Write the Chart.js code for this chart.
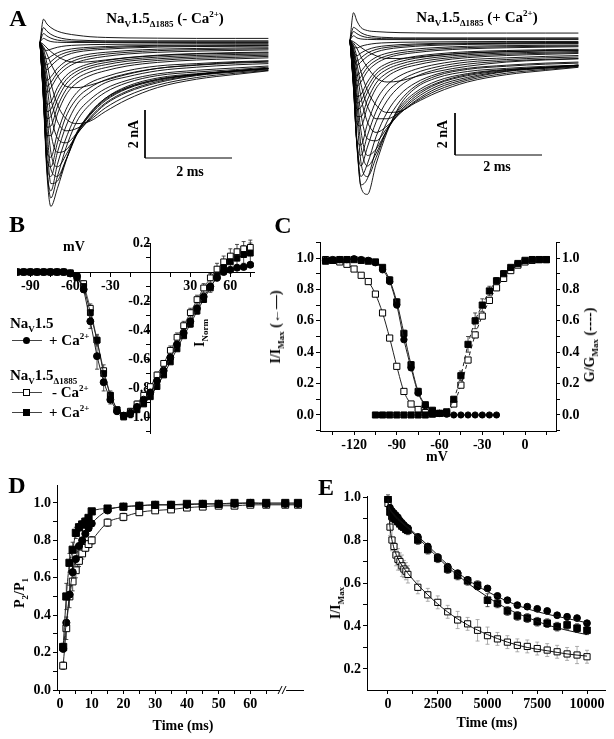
<!DOCTYPE html>
<html>
<head>
<meta charset="utf-8">
<script src="https://cdn.jsdelivr.net/npm/chart.js@4.4.1/dist/chart.umd.min.js"></script>
<style>
html, body { margin: 0; padding: 0; background: #fff; }
#fig { position: relative; width: 614px; height: 739px; overflow: hidden; font-family: 'Liberation Serif', 'Times New Roman', serif; font-weight: bold; color: #000; }
#fig canvas { position: absolute; }
.t { position: absolute; z-index: 2; white-space: nowrap; font-size: 14px; line-height: 1; transform: translate(-50%, -50%); }
.l { transform: translate(0, -50%); }
.rot { transform: translate(-50%, -50%) rotate(-90deg); }
.big { font-size: 24px; }
sub, sup { font-size: 9px; line-height: 0; }
.key { position: absolute; z-index: 2; width: 30px; height: 8px; }
.key::before { content: ''; position: absolute; left: 0; right: 0; top: 4px; border-top: 1px solid #444; }
.key i { position: absolute; left: 11px; top: 1px; width: 7px; height: 7px; background: #000; }
.key i.c { border-radius: 50%; }
.key i.o { background: #fff; border: 1px solid #000; width: 5px; height: 5px; }
</style>
</head>
<body>
<div id="fig">
  <div class="t big" style="left:18px;top:18px">A</div>
  <div class="t" style="left:165px;top:18px;font-size:15px">Na<sub>V</sub>1.5<sub>Δ1885</sub> (- Ca<sup>2+</sup>)</div>
  <div class="t" style="left:477px;top:17px;font-size:15px">Na<sub>V</sub>1.5<sub>Δ1885</sub> (+ Ca<sup>2+</sup>)</div>
  <div class="t rot" style="left:134px;top:134px">2 nA</div>
  <div class="t" style="left:190px;top:172px">2 ms</div>
  <div class="t rot" style="left:443px;top:134px">2 nA</div>
  <div class="t" style="left:497px;top:167px">2 ms</div>

  <div class="t big" style="left:17px;top:224px">B</div>
  <div class="t" style="left:74px;top:247px">mV</div>
  <div class="t rot" style="left:200px;top:333px">I<sub>Norm</sub></div>
  <div class="t l" style="left:10px;top:323px;font-size:15px">Na<sub>V</sub>1.5</div>
  <div class="key" style="left:12px;top:336px"><i class="c"></i></div>
  <div class="t l" style="left:49px;top:340px;font-size:15px">+ Ca<sup>2+</sup></div>
  <div class="t l" style="left:10px;top:375px;font-size:15px">Na<sub>V</sub>1.5<sub>Δ1885</sub></div>
  <div class="key" style="left:12px;top:388px"><i class="o"></i></div>
  <div class="t l" style="left:52px;top:392px;font-size:15px">- Ca<sup>2+</sup></div>
  <div class="key" style="left:12px;top:408px"><i></i></div>
  <div class="t l" style="left:49px;top:412px;font-size:15px">+ Ca<sup>2+</sup></div>

  <div class="t big" style="left:283px;top:225px">C</div>
  <div class="t rot" style="left:276px;top:327px">I/I<sub>Max</sub> (←—)</div>
  <div class="t rot" style="left:590px;top:345px">G/G<sub>Max</sub> (----)</div>
  <div class="t" style="left:437px;top:457px">mV</div>

  <div class="t big" style="left:17px;top:485px">D</div>
  <div class="t rot" style="left:20px;top:593px">P<sub>2</sub>/P<sub>1</sub></div>
  <div class="t" style="left:183px;top:726px">Time (ms)</div>

  <div class="t big" style="left:326px;top:487px">E</div>
  <div class="t rot" style="left:336px;top:603px">I/I<sub>Max</sub></div>
  <div class="t" style="left:487px;top:723px">Time (ms)</div>
</div>
<script>
// ---------- data ----------
// A: current families (nA) sampled on a common time grid (ms)
const traceTimes = [0, 0.08, 0.16, 0.25, 0.4, 0.6, 0.85, 1.15, 1.5, 2.0, 2.7, 3.6, 4.5, 5.25];
const tracesNoCa = [
  [0, -2.5, -5.5, -6.85, -6.1, -4.95, -3.75, -3.0, -2.35, -1.85, -1.5, -1.32, -1.2, -1.1],
  [0, -2.2, -5.2, -6.5, -5.6, -4.4, -3.3, -2.6, -2.1, -1.7, -1.4, -1.25, -1.15, -1.05],
  [0, -2.3, -5.3, -6.2, -5.1, -4.0, -3.0, -2.4, -1.95, -1.6, -1.33, -1.18, -1.08, -1.0],
  [0, -1.6, -4.2, -5.9, -5.8, -4.9, -3.8, -2.95, -2.35, -1.9, -1.55, -1.35, -1.2, -1.1],
  [0, -2.4, -5.1, -5.6, -4.6, -3.5, -2.6, -2.1, -1.7, -1.45, -1.2, -1.05, -0.95, -0.9],
  [0, -1.3, -3.6, -5.3, -5.6, -4.9, -3.85, -3.0, -2.4, -1.92, -1.57, -1.35, -1.2, -1.1],
  [0, -2.35, -4.9, -5.2, -4.2, -3.1, -2.35, -1.9, -1.58, -1.32, -1.1, -0.97, -0.88, -0.84],
  [0, -1.0, -3.0, -4.6, -5.2, -4.7, -3.8, -3.05, -2.45, -1.95, -1.6, -1.35, -1.2, -1.1],
  [0, -2.3, -4.6, -4.8, -3.8, -2.8, -2.1, -1.7, -1.45, -1.2, -1.0, -0.9, -0.82, -0.78],
  [0, -0.8, -2.4, -3.8, -4.6, -4.5, -3.85, -3.15, -2.55, -2.05, -1.65, -1.38, -1.22, -1.12],
  [0, -0.6, -1.8, -3.0, -4.0, -4.2, -3.8, -3.2, -2.6, -2.1, -1.7, -1.4, -1.25, -1.15],
  [0, -2.1, -3.9, -3.9, -3.0, -2.2, -1.7, -1.4, -1.2, -1.0, -0.85, -0.75, -0.7, -0.66],
  [0, -0.45, -1.35, -2.35, -3.3, -3.7, -3.6, -3.25, -2.75, -2.25, -1.8, -1.48, -1.3, -1.18],
  [0, -2.0, -3.55, -3.5, -2.7, -1.98, -1.52, -1.25, -1.07, -0.9, -0.77, -0.68, -0.64, -0.6],
  [0, -0.3, -0.9, -1.7, -2.6, -3.2, -3.4, -3.3, -2.9, -2.4, -1.9, -1.55, -1.35, -1.2],
  [0, -1.9, -3.2, -3.1, -2.4, -1.75, -1.35, -1.1, -0.95, -0.8, -0.7, -0.62, -0.58, -0.55],
  [0, -1.75, -2.9, -2.8, -2.15, -1.57, -1.22, -1.0, -0.86, -0.73, -0.63, -0.56, -0.52, -0.5],
  [0, -1.6, -2.6, -2.5, -1.9, -1.4, -1.1, -0.9, -0.78, -0.66, -0.57, -0.5, -0.47, -0.45],
  [0, -0.2, -0.5, -0.9, -1.4, -1.85, -1.9, -1.8, -1.6, -1.35, -1.1, -0.95, -0.85, -0.8],
  [0, -1.4, -2.1, -1.9, -1.45, -1.1, -0.85, -0.7, -0.6, -0.5, -0.43, -0.38, -0.35, -0.33],
  [0, -1.25, -1.85, -1.68, -1.28, -0.95, -0.73, -0.6, -0.51, -0.43, -0.36, -0.32, -0.3, -0.28],
  [0, -1.1, -1.6, -1.45, -1.1, -0.8, -0.62, -0.5, -0.43, -0.36, -0.3, -0.27, -0.25, -0.24],
  [0, -0.1, -0.25, -0.4, -0.6, -0.78, -0.85, -0.82, -0.75, -0.65, -0.55, -0.48, -0.44, -0.42],
  [0, -0.85, -1.15, -1.0, -0.75, -0.55, -0.42, -0.35, -0.3, -0.25, -0.21, -0.19, -0.18, -0.17],
  [0, -0.7, -0.95, -0.82, -0.6, -0.44, -0.34, -0.28, -0.24, -0.2, -0.17, -0.16, -0.15, -0.14],
  [0, -0.55, -0.7, -0.6, -0.45, -0.33, -0.26, -0.22, -0.19, -0.16, -0.14, -0.13, -0.12, -0.12],
  [0, -0.3, -0.35, -0.3, -0.22, -0.16, -0.13, -0.11, -0.1, -0.09, -0.08, -0.07, -0.07, -0.07],
  [0, 0.15, 0.08, 0.02, -0.01, -0.02, -0.02, -0.02, -0.02, -0.02, -0.02, -0.02, -0.02, -0.02],
  [0, 0.35, 0.25, 0.16, 0.08, 0.04, 0.02, 0.01, 0.01, 0.01, 0.01, 0.01, 0.01, 0.01],
  [0, 0.6, 0.45, 0.32, 0.2, 0.12, 0.08, 0.06, 0.05, 0.05, 0.05, 0.05, 0.05, 0.05],
  [0, 0.95, 0.75, 0.6, 0.45, 0.35, 0.28, 0.22, 0.19, 0.17, 0.16, 0.15, 0.15, 0.15]
];
const tracesCa = [
  [0, -1.8, -4.8, -7.0, -7.35, -5.9, -4.4, -3.1, -2.3, -1.8, -1.5, -1.35, -1.25, -1.2],
  [0, -2.0, -5.0, -6.9, -6.6, -5.2, -3.9, -2.9, -2.2, -1.7, -1.4, -1.25, -1.15, -1.1],
  [0, -2.1, -5.1, -6.5, -5.9, -4.6, -3.45, -2.6, -2.05, -1.62, -1.35, -1.2, -1.1, -1.05],
  [0, -1.2, -3.6, -5.8, -6.5, -5.6, -4.3, -3.2, -2.5, -1.95, -1.6, -1.4, -1.3, -1.2],
  [0, -2.2, -5.0, -6.0, -5.1, -3.9, -2.9, -2.2, -1.75, -1.4, -1.15, -1.0, -0.92, -0.88],
  [0, -1.0, -3.0, -5.0, -6.0, -5.4, -4.3, -3.3, -2.6, -2.05, -1.65, -1.42, -1.3, -1.2],
  [0, -2.25, -4.9, -5.5, -4.55, -3.4, -2.5, -1.95, -1.58, -1.28, -1.05, -0.93, -0.85, -0.81],
  [0, -0.8, -2.5, -4.3, -5.5, -5.2, -4.3, -3.4, -2.7, -2.1, -1.7, -1.45, -1.3, -1.2],
  [0, -2.3, -4.8, -5.0, -4.0, -2.9, -2.15, -1.7, -1.4, -1.15, -0.95, -0.85, -0.78, -0.74],
  [0, -0.65, -2.0, -3.5, -4.7, -4.8, -4.2, -3.45, -2.8, -2.2, -1.78, -1.48, -1.33, -1.22],
  [0, -0.5, -1.5, -2.7, -3.9, -4.4, -4.1, -3.5, -2.9, -2.3, -1.85, -1.5, -1.35, -1.25],
  [0, -2.1, -4.0, -4.1, -3.2, -2.3, -1.75, -1.4, -1.2, -1.0, -0.84, -0.74, -0.68, -0.64],
  [0, -0.38, -1.15, -2.1, -3.15, -3.75, -3.75, -3.45, -2.95, -2.4, -1.92, -1.58, -1.4, -1.27],
  [0, -2.0, -3.65, -3.65, -2.85, -2.05, -1.57, -1.28, -1.08, -0.91, -0.77, -0.68, -0.63, -0.6],
  [0, -0.25, -0.8, -1.5, -2.4, -3.1, -3.45, -3.4, -3.0, -2.5, -2.0, -1.65, -1.45, -1.3],
  [0, -1.9, -3.3, -3.2, -2.5, -1.8, -1.4, -1.15, -0.97, -0.82, -0.7, -0.62, -0.58, -0.55],
  [0, -1.75, -3.0, -2.9, -2.25, -1.62, -1.25, -1.03, -0.87, -0.74, -0.63, -0.56, -0.52, -0.5],
  [0, -1.6, -2.7, -2.6, -2.0, -1.45, -1.12, -0.92, -0.78, -0.66, -0.56, -0.5, -0.46, -0.44],
  [0, -0.15, -0.4, -0.8, -1.3, -1.8, -2.0, -1.95, -1.75, -1.5, -1.25, -1.05, -0.95, -0.9],
  [0, -1.4, -2.2, -2.0, -1.5, -1.12, -0.86, -0.7, -0.6, -0.5, -0.42, -0.37, -0.34, -0.32],
  [0, -1.25, -1.95, -1.75, -1.3, -0.97, -0.75, -0.61, -0.52, -0.43, -0.36, -0.32, -0.3, -0.28],
  [0, -1.1, -1.7, -1.5, -1.12, -0.82, -0.63, -0.51, -0.43, -0.36, -0.3, -0.27, -0.25, -0.24],
  [0, -0.08, -0.2, -0.35, -0.55, -0.75, -0.88, -0.88, -0.82, -0.72, -0.62, -0.55, -0.5, -0.48],
  [0, -0.85, -1.2, -1.05, -0.78, -0.57, -0.44, -0.36, -0.3, -0.25, -0.21, -0.19, -0.18, -0.17],
  [0, -0.7, -1.0, -0.85, -0.62, -0.45, -0.35, -0.29, -0.24, -0.2, -0.17, -0.16, -0.15, -0.14],
  [0, -0.55, -0.75, -0.62, -0.46, -0.34, -0.27, -0.22, -0.19, -0.16, -0.14, -0.13, -0.12, -0.12],
  [0, -0.3, -0.38, -0.3, -0.22, -0.16, -0.13, -0.11, -0.1, -0.09, -0.08, -0.07, -0.07, -0.07],
  [0, 0.2, 0.1, 0.05, 0.03, 0.02, 0.02, 0.02, 0.02, 0.02, 0.02, 0.02, 0.02, 0.02],
  [0, 0.4, 0.3, 0.2, 0.12, 0.08, 0.06, 0.06, 0.06, 0.06, 0.06, 0.06, 0.06, 0.06],
  [0, 0.6, 0.5, 0.35, 0.22, 0.15, 0.12, 0.1, 0.1, 0.1, 0.1, 0.1, 0.1, 0.1],
  [0, 1.3, 0.9, 0.6, 0.45, 0.4, 0.37, 0.35, 0.34, 0.33, 0.33, 0.33, 0.33, 0.33]
];
const barTime = 2;     // ms
const barCurrent = 2;  // nA

// B: normalised I-V
const ivVolts = [-100, -95, -90, -85, -80, -75, -70, -65, -60, -55, -50, -45, -40, -35, -30, -25, -20, -15, -10, -5, 0, 5, 10, 15, 20, 25, 30, 35, 40, 45, 50, 55, 60, 65, 70, 75];
const ivNav15Ca = [0, 0, 0, 0, 0, 0, 0, 0, -0.01, -0.03, -0.12, -0.34, -0.58, -0.76, -0.88, -0.96, -0.99, -0.97, -0.93, -0.88, -0.83, -0.75, -0.68, -0.59, -0.50, -0.42, -0.34, -0.25, -0.17, -0.10, -0.04, 0.0, 0.015, 0.03, 0.035, 0.05];
const ivDeltaNoCa = [0, 0, 0, 0, 0, 0, 0, 0, -0.005, -0.03, -0.08, -0.25, -0.47, -0.68, -0.85, -0.95, -0.99, -0.96, -0.91, -0.85, -0.79, -0.71, -0.63, -0.54, -0.45, -0.37, -0.28, -0.19, -0.11, -0.04, 0.02, 0.07, 0.11, 0.14, 0.16, 0.17];
const ivDeltaCa = [0, 0, 0, 0, 0, 0, 0, 0, -0.01, -0.04, -0.10, -0.28, -0.47, -0.70, -0.85, -0.95, -1.0, -0.98, -0.95, -0.91, -0.86, -0.79, -0.71, -0.62, -0.53, -0.44, -0.36, -0.27, -0.19, -0.11, -0.03, 0.03, 0.07, 0.095, 0.12, 0.13];
const ivErrNav15Ca = [0, 0, 0, 0, 0, 0, 0, 0, 0, 0, 0.02, 0.05, 0.09, 0.06, 0.03, 0.02, 0.01, 0.01, 0.01, 0.01, 0.01, 0.01, 0.01, 0.01, 0.01, 0.01, 0.01, 0.01, 0.01, 0.01, 0.01, 0.01, 0.01, 0.01, 0.01, 0.01];
const ivErrDeltaNoCa = [0, 0, 0, 0, 0, 0, 0, 0, 0, 0.01, 0.02, 0.03, 0.04, 0.04, 0.03, 0.02, 0.02, 0.02, 0.02, 0.02, 0.02, 0.02, 0.02, 0.03, 0.03, 0.03, 0.03, 0.03, 0.03, 0.03, 0.04, 0.04, 0.05, 0.05, 0.05, 0.05];
const ivErrDeltaCa = [0, 0, 0, 0, 0, 0, 0, 0, 0, 0, 0.01, 0.02, 0.03, 0.02, 0.02, 0.01, 0.01, 0.01, 0.01, 0.01, 0.01, 0.01, 0.01, 0.01, 0.01, 0.01, 0.02, 0.02, 0.02, 0.03, 0.03, 0.04, 0.05, 0.06, 0.06, 0.07];

// C: steady-state inactivation (solid) and activation (dashed)
const inactVolts = [-140, -135, -130, -125, -120, -115, -110, -105, -100, -95, -90, -85, -80, -75, -70, -65, -60];
const inactNav15Ca = [0.985, 0.99, 0.99, 0.99, 0.995, 0.99, 0.985, 0.97, 0.925, 0.85, 0.70, 0.48, 0.30, 0.14, 0.06, 0.025, 0.01];
const inactDeltaCa = [0.98, 0.985, 0.99, 0.99, 0.99, 0.985, 0.98, 0.975, 0.94, 0.86, 0.72, 0.52, 0.32, 0.15, 0.065, 0.03, 0.01];
const inactDeltaNoCa = [0.99, 0.985, 0.975, 0.96, 0.93, 0.89, 0.85, 0.77, 0.65, 0.49, 0.31, 0.15, 0.07, 0.035, 0.015, 0.01, 0.01];
const inactErrDeltaCa = [0, 0, 0, 0, 0, 0, 0, 0.01, 0.01, 0.02, 0.02, 0.02, 0.02, 0.02, 0.01, 0.01, 0];
const restVolts = [-105, -100, -95, -90, -85, -80, -75, -70, -65, -60, -55, -50, -45, -40, -35, -30, -25, -20];
const restLevel = [0, 0, 0, 0, 0, 0, 0, 0, 0.005, 0.01, 0.005, 0, 0, 0, 0, 0, 0, 0];
const actVolts = [-55, -50, -45, -40, -35, -30, -25, -20, -15, -10, -5, 0, 5, 10, 15];
const actDeltaCa = [0.02, 0.10, 0.25, 0.45, 0.60, 0.70, 0.79, 0.855, 0.90, 0.94, 0.965, 0.985, 0.99, 0.99, 0.99];
const actDeltaNoCa = [0.01, 0.07, 0.19, 0.35, 0.51, 0.63, 0.73, 0.81, 0.87, 0.92, 0.955, 0.975, 0.985, 0.99, 0.99];
const actErrDeltaCa = [0, 0.01, 0.03, 0.05, 0.05, 0.04, 0.03, 0.02, 0.02, 0.01, 0.01, 0.01, 0, 0, 0];

// D: recovery from inactivation (last two points sit after the axis break)
const recTimes = [1, 2, 3, 4, 5, 6, 7, 8, 9, 10, 15, 20, 25, 30, 35, 40, 45, 50, 55, 60, 65, 71, 75];
const recNav15Ca = [0.22, 0.36, 0.51, 0.63, 0.70, 0.77, 0.80, 0.835, 0.865, 0.89, 0.96, 0.98, 0.985, 0.99, 0.99, 0.99, 0.995, 0.995, 0.995, 1.0, 0.995, 0.995, 0.995];
const recDeltaCa = [0.23, 0.50, 0.68, 0.75, 0.84, 0.87, 0.885, 0.90, 0.92, 0.955, 0.97, 0.98, 0.985, 0.99, 0.99, 0.995, 0.995, 0.995, 1.0, 1.0, 1.0, 1.0, 1.0];
const recDeltaNoCa = [0.13, 0.33, 0.50, 0.58, 0.64, 0.69, 0.73, 0.76, 0.78, 0.80, 0.895, 0.925, 0.95, 0.96, 0.965, 0.975, 0.98, 0.985, 0.985, 0.99, 0.99, 0.99, 0.99];
const recErrDeltaNoCa = [0.02, 0.06, 0.06, 0.05, 0.04, 0.03, 0.03, 0.02, 0.02, 0.02, 0.02, 0.02, 0.015, 0.01, 0.01, 0.01, 0.01, 0.01, 0.01, 0.01, 0.01, 0.01, 0.01];
const recErrDeltaCa = [0.02, 0.07, 0.05, 0.04, 0.03, 0.02, 0.02, 0.02, 0.01, 0.01, 0.01, 0.01, 0.01, 0.01, 0.01, 0.01, 0.01, 0.01, 0.01, 0.01, 0.01, 0.01, 0.01];
const recBreakAt = 70.3;

// E: slow inactivation
const decayTimes = [0, 100, 200, 300, 400, 500, 600, 700, 800, 900, 1000, 1500, 2000, 2500, 3000, 3500, 4000, 4500, 5000, 5500, 6000, 6500, 7000, 7500, 8000, 8500, 9000, 9500, 10000];
const decayNav15Ca = [0.99, 0.95, 0.935, 0.925, 0.915, 0.905, 0.89, 0.88, 0.87, 0.86, 0.855, 0.815, 0.77, 0.72, 0.676, 0.646, 0.614, 0.583, 0.575, 0.54, 0.52, 0.497, 0.49, 0.48, 0.47, 0.45, 0.443, 0.437, 0.413];
const decayDeltaCa = [0.99, 0.93, 0.91, 0.90, 0.895, 0.885, 0.875, 0.865, 0.86, 0.85, 0.845, 0.80, 0.755, 0.715, 0.665, 0.635, 0.61, 0.59, 0.52, 0.505, 0.47, 0.447, 0.437, 0.42, 0.413, 0.397, 0.405, 0.39, 0.38];
const decayDeltaNoCa = [0.97, 0.86, 0.80, 0.77, 0.73, 0.71, 0.70, 0.68, 0.665, 0.655, 0.64, 0.58, 0.545, 0.51, 0.466, 0.428, 0.41, 0.38, 0.355, 0.34, 0.325, 0.31, 0.305, 0.295, 0.288, 0.28, 0.27, 0.265, 0.257];
const decayErrDeltaNoCa = [0.02, 0.04, 0.05, 0.04, 0.05, 0.05, 0.04, 0.05, 0.04, 0.04, 0.04, 0.03, 0.03, 0.03, 0.03, 0.04, 0.03, 0.05, 0.04, 0.03, 0.03, 0.03, 0.03, 0.03, 0.03, 0.03, 0.03, 0.04, 0.03];
const decayErrDeltaCa = [0.02, 0.02, 0.02, 0.02, 0.02, 0.02, 0.02, 0.02, 0.02, 0.02, 0.02, 0.02, 0.02, 0.02, 0.02, 0.02, 0.02, 0.02, 0.03, 0.02, 0.02, 0.02, 0.02, 0.02, 0.02, 0.02, 0.02, 0.02, 0.02];
const fitTimes = [0, 100, 250, 500, 1000, 2000, 3000, 4000, 5000, 6000, 7000, 8000, 9000, 10000];
const fitNav15Ca = [0.97, 0.945, 0.925, 0.90, 0.86, 0.775, 0.685, 0.615, 0.56, 0.515, 0.48, 0.455, 0.435, 0.415];
const fitDeltaCa = [0.965, 0.94, 0.92, 0.895, 0.855, 0.765, 0.675, 0.60, 0.535, 0.48, 0.44, 0.405, 0.38, 0.36];
const fitDeltaNoCa = [0.99, 0.86, 0.78, 0.715, 0.645, 0.545, 0.465, 0.405, 0.36, 0.325, 0.30, 0.285, 0.27, 0.26];
const decayTicks = [0, 1250, 2500, 3750, 5000, 6250, 7500, 8750, 10000];

// ---------- helpers ----------
const SERIF = "'Liberation Serif', 'Times New Roman', serif";
Chart.defaults.font.family = SERIF;
Chart.defaults.font.weight = 'bold';
Chart.defaults.font.size = 14;
Chart.defaults.color = '#000';

const fig = document.getElementById('fig');
const xy = (xs, ys) => xs.map((x, i) => ({ x, y: ys[i] }));

function canvasAt(left, top, w, h) {
    const c = document.createElement('canvas');
    c.width = w; c.height = h;
    c.style.left = left + 'px'; c.style.top = top + 'px';
    c.style.width = w + 'px'; c.style.height = h + 'px';
    fig.insertBefore(c, fig.firstChild);
    return c;
}

const errorBars = {
    id: 'errorBars',
    beforeDatasetsDraw(chart) {
        const ctx = chart.ctx;
        chart.data.datasets.forEach((ds, i) => {
            if (!ds.errs) return;
            const meta = chart.getDatasetMeta(i);
            const ys = chart.scales[meta.yAxisID];
            ctx.save();
            ctx.strokeStyle = ds.errColor || '#222';
            ctx.lineWidth = 0.8;
            ctx.beginPath();
            meta.data.forEach((pt, j) => {
                const e = ds.errs[j];
                if (!e) return;
                const v = ds.data[j].y;
                const y1 = ys.getPixelForValue(v + e), y2 = ys.getPixelForValue(v - e);
                ctx.moveTo(pt.x, y1); ctx.lineTo(pt.x, y2);
                ctx.moveTo(pt.x - 2, y1); ctx.lineTo(pt.x + 2, y1);
                ctx.moveTo(pt.x - 2, y2); ctx.lineTo(pt.x + 2, y2);
            });
            ctx.stroke();
            ctx.restore();
        });
    }
};

const axisBreak = {
    id: 'axisBreak',
    afterDraw(chart) {
        const x = chart.scales.x.getPixelForValue(recBreakAt), y = chart.chartArea.bottom;
        const ctx = chart.ctx;
        ctx.save();
        ctx.fillStyle = '#fff';
        ctx.fillRect(x - 3, y - 2, 6, 4);
        ctx.strokeStyle = '#000';
        ctx.lineWidth = 1;
        ctx.beginPath();
        ctx.moveTo(x - 5, y + 4); ctx.lineTo(x - 1, y - 4);
        ctx.moveTo(x - 1, y + 4); ctx.lineTo(x + 3, y - 4);
        ctx.stroke();
        ctx.restore();
    }
};

// label only the multiples of k
function every(k, dec, skipZero, maxShown) {
    return v => {
        const q = v / k;
        if (Math.abs(q - Math.round(q)) > 1e-6) return '';
        if (skipZero && Math.abs(v) < 1e-9) return '';
        if (maxShown != null && v > maxShown) return '';
        return Math.abs(v) < 1e-9 ? (0).toFixed(dec) : v.toFixed(dec);
    };
}

function axis(min, max, step, label, extra) {
    const size = extra && extra.size;
    const o = {
        type: 'linear', min, max,
        grid: { drawOnChartArea: false, tickLength: 4, color: '#000', lineWidth: 1 },
        border: { color: '#000', width: 1 },
        ticks: { stepSize: step, includeBounds: false, autoSkip: false, maxRotation: 0, minRotation: 0, padding: 2, color: '#000', callback: label },
        afterFit: s => {
            if (size != null) { if (s.isHorizontal()) s.height = size; else s.width = size; }
            s.paddingLeft = s.paddingRight = s.paddingTop = s.paddingBottom = 0;
        }
    };
    if (extra && extra.position) o.position = extra.position;
    if (extra && extra.gridColor) o.grid.color = extra.gridColor;
    if (extra && extra.ticksAt) {
        const at = extra.ticksAt;
        o.afterBuildTicks = s => { s.ticks = at.map(v => ({ value: v })); };
    }
    return o;
}

const baseOpts = {
    responsive: false, animation: false, events: [],
    plugins: { legend: { display: false }, tooltip: { enabled: false } }
};

function marker(style, r) {
    if (style === 'circle') return { pointStyle: 'circle', pointRadius: r, pointBackgroundColor: '#000', pointBorderColor: '#000', pointBorderWidth: 1 };
    if (style === 'square') return { pointStyle: 'rect', pointRadius: r * 1.41, pointBackgroundColor: '#000', pointBorderColor: '#000', pointBorderWidth: 1 };
    return { pointStyle: 'rect', pointRadius: r * 1.41, pointBackgroundColor: '#fff', pointBorderColor: '#000', pointBorderWidth: 1 };
}

function series(xs, ys, style, r, extra) {
    return Object.assign({
        data: xy(xs, ys), showLine: true, borderColor: '#222', borderWidth: 1,
        cubicInterpolationMode: 'monotone', fill: false
    }, marker(style, r), extra || {});
}

// ---------- A: current traces ----------
function traceChart(left, top, traces, xMin, xMax, yMin, yMax, barT, barI) {
    const c = canvasAt(left, top, 307, 220);
    const sets = traces.map(tr => ({
        data: xy(traceTimes, tr), borderColor: '#000', borderWidth: 0.9,
        pointRadius: 0, cubicInterpolationMode: 'monotone', fill: false
    }));
    sets.push({
        data: [{ x: barT, y: barI }, { x: barT, y: barI - barCurrent }, { x: barT + barTime, y: barI - barCurrent }],
        borderColor: '#000', borderWidth: 1, pointRadius: 0, tension: 0, fill: false
    });
    new Chart(c, {
        type: 'line',
        data: { datasets: sets },
        options: Object.assign({}, baseOpts, {
            layout: { padding: 0 },
            scales: {
                x: { type: 'linear', display: false, min: xMin, max: xMax },
                y: { type: 'linear', display: false, min: yMin, max: yMax }
            }
        })
    });
}
traceChart(0, 0, tracesNoCa, -40 / 43.5, 267 / 43.5, -178 / 24, 42 / 24, 105 / 43.5, -68 / 24);
traceChart(307, 0, tracesCa, -43 / 43.5, 264 / 43.5, -180 / 21, 40 / 21, 105 / 43.5, -73 / 21);

// ---------- B: I-V (first dataset is drawn on top) ----------
new Chart(canvasAt(0, 225, 262, 215), {
    type: 'scatter',
    data: {
        datasets: [
            series(ivVolts, ivNav15Ca, 'circle', 3.5, { errs: ivErrNav15Ca, cubicInterpolationMode: 'default', tension: 0 }),
            series(ivVolts, ivDeltaCa, 'square', 2.9, { errs: ivErrDeltaCa, cubicInterpolationMode: 'default', tension: 0 }),
            series(ivVolts, ivDeltaNoCa, 'open', 2.9, { errs: ivErrDeltaNoCa, borderColor: '#555', cubicInterpolationMode: 'default', tension: 0 })
        ]
    },
    options: Object.assign({}, baseOpts, {
        layout: { padding: { left: 17, top: 18, right: 8, bottom: 7 } },
        scales: {
            x: axis(-100, 77.75, 15, every(30, 0, true), { position: { y: 0 } }),
            y: axis(-1.11, 0.2, 0.1, every(0.2, 1, true), { position: { x: 0 } })
        }
    }),
    plugins: [errorBars]
});

// ---------- C: inactivation / activation ----------
new Chart(canvasAt(275, 230, 330, 228), {
    type: 'scatter',
    data: {
        datasets: [
            series(restVolts, restLevel, 'square', 3.1, {
                pointStyle: restVolts.map(v => v <= -65 ? 'rect' : 'circle'),
                pointRadius: restVolts.map(v => v <= -65 ? 4.3 : 3.1)
            }),
            series(inactVolts, inactNav15Ca, 'circle', 3.2),
            series(inactVolts, inactDeltaCa, 'square', 3.1, { errs: inactErrDeltaCa }),
            series(inactVolts, inactDeltaNoCa, 'open', 3.1),
            series(actVolts, actDeltaCa, 'square', 3.1, { errs: actErrDeltaCa, borderDash: [4, 3] }),
            series(actVolts, actDeltaNoCa, 'open', 3.1, { borderDash: [4, 3] })
        ]
    },
    options: Object.assign({}, baseOpts, {
        layout: { padding: { left: 5, top: 12, right: 9, bottom: 5 } },
        scales: {
            x: axis(-143.9, 21.75, 15, every(30, 0, false), { size: 22, position: 'bottom' }),
            y: axis(-0.102, 1.102, 0.1, every(0.2, 1, false), { size: 40, position: 'left' }),
            y2: axis(-0.102, 1.102, 0.1, every(0.2, 1, false), { size: 40, position: 'right' })
        }
    }),
    plugins: [errorBars]
});

// ---------- D: recovery ----------
new Chart(canvasAt(0, 475, 310, 264), {
    type: 'scatter',
    data: {
        datasets: [
            series(recTimes, recDeltaCa, 'square', 3.6, { errs: recErrDeltaCa }),
            series(recTimes, recNav15Ca, 'circle', 3.6),
            series(recTimes, recDeltaNoCa, 'open', 3.4, { errs: recErrDeltaNoCa })
        ]
    },
    options: Object.assign({}, baseOpts, {
        layout: { padding: { left: 12, top: 10, right: 4, bottom: 24 } },
        scales: {
            x: axis(-0.9375, 76.875, 5, every(10, 0, false, 60), {
                size: 25, position: 'bottom',
                gridColor: c => (c.tick && c.tick.value > 65) ? 'rgba(0,0,0,0)' : '#000'
            }),
            y: axis(0, 1.096, 0.1, every(0.2, 1, false), { size: 45, position: 'left' })
        }
    }),
    plugins: [errorBars, axisBreak]
});

// ---------- E: slow inactivation ----------
const dot = { showLine: false };
const fitLine = { pointRadius: 0, borderColor: '#111', borderWidth: 1 };
new Chart(canvasAt(310, 480, 304, 259), {
    type: 'scatter',
    data: {
        datasets: [
            series(fitTimes, fitDeltaNoCa, 'open', 0, fitLine),
            series(fitTimes, fitDeltaCa, 'square', 0, fitLine),
            series(fitTimes, fitNav15Ca, 'circle', 0, fitLine),
            series(decayTimes, decayNav15Ca, 'circle', 3.4, dot),
            series(decayTimes, decayDeltaCa, 'square', 3.3, Object.assign({ errs: decayErrDeltaCa }, dot)),
            series(decayTimes, decayDeltaNoCa, 'open', 3.1, Object.assign({ errs: decayErrDeltaNoCa, errColor: '#999' }, dot))
        ]
    },
    options: Object.assign({}, baseOpts, {
        layout: { padding: { left: 12, top: 16, right: 9, bottom: 24 } },
        scales: {
            x: axis(-1055, 10904, undefined, every(2500, 0, false), { size: 25, position: 'bottom', ticksAt: decayTicks }),
            y: axis(0.1023, 1.0047, 0.1, every(0.2, 1, false), { size: 45, position: 'left' })
        }
    }),
    plugins: [errorBars]
});
</script>
</body>
</html>
